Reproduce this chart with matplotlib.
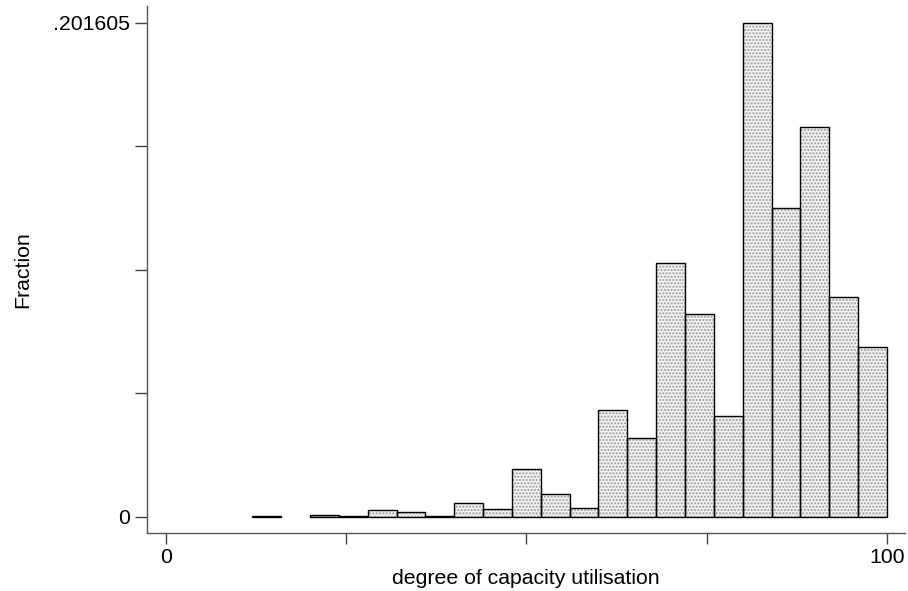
import matplotlib
matplotlib.use("Agg")
import matplotlib.pyplot as plt
import numpy as np

# histogram of capacity utilisation, 25 bins of width 4 between 0 and 100
bin_width = 4
bin_left = np.arange(0, 100, bin_width)
fractions = [0, 0, 0, 0.0001, 0, 0.0007, 0.0002, 0.0027, 0.0019, 0.0003,
             0.0057, 0.0031, 0.0195, 0.0090, 0.0036, 0.0436, 0.0322, 0.1036,
             0.0829, 0.0412, 0.201605, 0.1260, 0.1590, 0.0896, 0.0692]
y_max = 0.201605
x_ticks = [0, 25, 50, 75, 100]
x_labels = ['0', '', '', '', '100']
y_labels = ['0', '', '', '', '.201605']

plt.rcParams['font.family'] = ['Liberation Sans', 'DejaVu Sans']

fig = plt.figure(figsize=(9.08, 5.91), dpi=100)
ax = fig.add_axes([0.1619, 0.0981, 0.8348, 0.8923])

fractions = np.array(fractions)
keep = fractions > 0
lefts = bin_left[keep]
heights = fractions[keep]

# dotted fill first, then the black outlines on top
ax.bar(lefts, heights, width=bin_width, align='edge', color='#f2f2f2',
       hatch='.....', edgecolor='#999999', linewidth=0)
ax.bar(lefts, heights, width=bin_width, align='edge', fill=False,
       edgecolor='black', linewidth=1.0)

ax.set_xlim(-2.6, 102.5)
ax.set_ylim(-0.00674, 0.20867)

ax.set_xticks(x_ticks)
ax.set_xticklabels(x_labels)
ax.set_yticks(np.linspace(0, y_max, 5))
ax.set_yticklabels(y_labels)

for side in ['top', 'right']:
    ax.spines[side].set_visible(False)
for side in ['left', 'bottom']:
    ax.spines[side].set_color('#555555')
    ax.spines[side].set_linewidth(1.0)

ax.tick_params(axis='x', length=8, width=1, color='#444444', pad=3, labelsize=15.3)
ax.tick_params(axis='y', length=8.6, width=1, color='#444444', pad=3.5, labelsize=15.3)

ax.set_xlabel('degree of capacity utilisation', fontsize=15.3, labelpad=1)
ax.set_ylabel('Fraction', fontsize=15.3, labelpad=15)

fig.savefig('out.png', dpi=100)
